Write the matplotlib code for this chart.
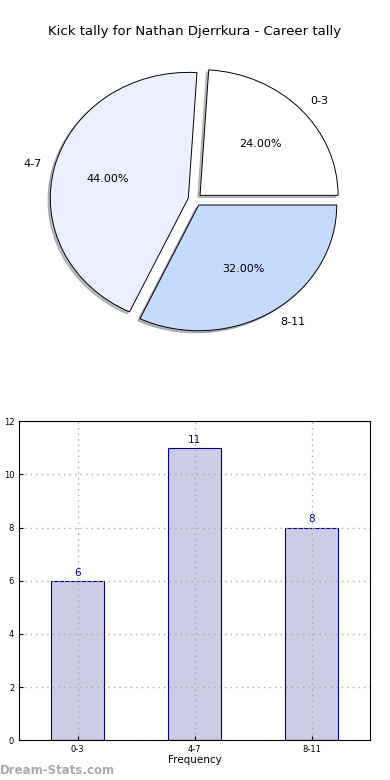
import matplotlib.pyplot as plt

# Data
labels = ['0-3', '4-7', '8-11']
counts = [6, 11, 8]
pie_colors = ['#FFFFFF', '#EAF0FF', '#C6D9FF']

fig = plt.figure(figsize=(3.9, 7.8), dpi=100)

# Pie chart (top)
ax1 = fig.add_axes([0.0575, 0.5425, 0.885, 0.403])
ax1.pie(counts, labels=labels, colors=pie_colors, explode=[0.05] * len(counts),
        shadow={'ox': -0.012, 'oy': -0.012, 'shade': 0.5}, startangle=0,
        autopct=lambda p: '%.2f%%' % p,
        wedgeprops={'edgecolor': 'black', 'linewidth': 0.7},
        textprops={'fontsize': 8})
ax1.set_aspect('auto')
fig.text(0.5, 0.96, 'Kick tally for Nathan Djerrkura - Career tally',
         ha='center', va='center', fontsize=9.5)

# Bar chart (bottom)
ax2 = fig.add_axes([0.049, 0.051, 0.9, 0.409])
x = range(len(labels))
ax2.bar(x, counts, width=0.45, color='#CCCCE5', edgecolor='navy', linewidth=0.8)
for i, c in zip(x, counts):
    ax2.text(i, c + 0.12, str(c), ha='center', va='bottom', color='navy', fontsize=7.5)
ax2.set_xlim(-0.5, 2.5)
ax2.set_ylim(0, 12)
ax2.set_xticks(list(x))
ax2.set_xticklabels(labels)
ax2.tick_params(labelsize=6, length=3, direction='in')
ax2.grid(True, linestyle=(0, (1, 3)), color='#aaaaaa', linewidth=1.0)
ax2.set_axisbelow(False)
for sp in ax2.spines.values():
    sp.set_zorder(4)
ax2.set_xlabel('Frequency', fontsize=7.5, labelpad=1)
ax2.set_ylabel('Scores in Tally', fontsize=7.5)
ax2.yaxis.set_label_coords(-0.075, 0.5)

fig.text(0.0, 0.012, 'Dream-Stats.com', color='#aaaaaa', fontsize=8.5,
         fontweight='bold', ha='left', va='center')

fig.savefig('out.png', dpi=100)
